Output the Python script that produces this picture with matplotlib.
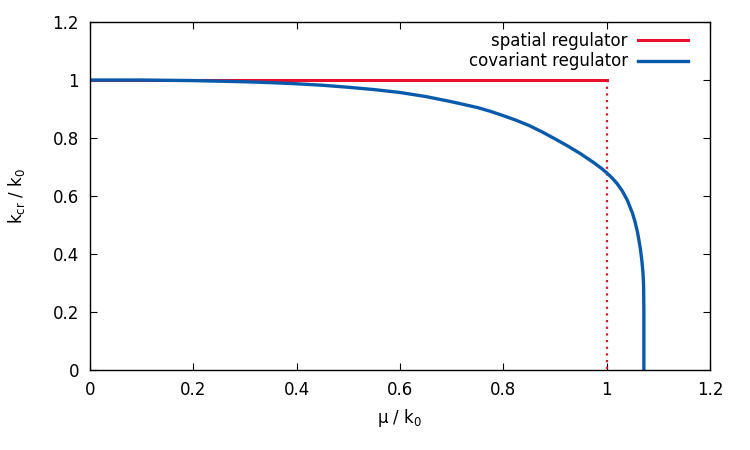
import numpy as np
import matplotlib
matplotlib.use("Agg")
import matplotlib.pyplot as plt

# spatial regulator: constant up to mu = k0
spatial_mu = [0.0, 1.0]
spatial_k = [1.0, 1.0]

# covariant regulator
covariant_mu = [0.0, 0.1, 0.2, 0.25, 0.3, 0.35, 0.4, 0.45, 0.5, 0.55, 0.6, 0.65, 0.7, 0.75, 0.775,
                0.8, 0.825, 0.85, 0.875, 0.9, 0.925, 0.95, 0.975, 0.99, 1.0, 1.01, 1.02, 1.03, 1.04,
                1.05, 1.055, 1.06, 1.065, 1.068, 1.07, 1.071, 1.0715, 1.072, 1.072]
covariant_k = [1.0, 1.0, 0.998, 0.996, 0.994, 0.991, 0.987, 0.982, 0.975, 0.967, 0.957, 0.943, 0.925, 0.905, 0.892,
               0.877, 0.861, 0.843, 0.821, 0.797, 0.772, 0.745, 0.715, 0.695, 0.68, 0.663, 0.643, 0.618, 0.585,
               0.54, 0.51, 0.472, 0.42, 0.378, 0.34, 0.31, 0.285, 0.2, 0.0]

xticks = [0, 0.2, 0.4, 0.6, 0.8, 1, 1.2]
yticks = [0, 0.2, 0.4, 0.6, 0.8, 1, 1.2]
tick_labels = ["0", "0.2", "0.4", "0.6", "0.8", "1", "1.2"]

red = "#e8102a"
blue = "#0a5aac"

plt.rcParams["font.family"] = "DejaVu Sans"
plt.rcParams["font.size"] = 12

fig = plt.figure(figsize=(7.5, 4.5), dpi=100)
ax = fig.add_axes([0.12, 0.178, 0.8267, 0.773])

ax.plot(spatial_mu, spatial_k, color=red, lw=2.2, label="spatial regulator")
ax.plot([spatial_mu[-1], spatial_mu[-1]], [spatial_k[-1], 0], color=red, lw=1.6, ls=(0, (1, 2)))
ax.plot(covariant_mu, covariant_k, color=blue, lw=2.4, label="covariant regulator",
        solid_joinstyle="round")

ax.set_xlim(0, 1.2)
ax.set_ylim(0, 1.2)
ax.set_xticks(xticks)
ax.set_xticklabels(tick_labels)
ax.set_yticks(yticks)
ax.set_yticklabels(tick_labels)
ax.tick_params(direction="in", top=True, right=True, length=5, width=0.8, pad=8)
for s in ax.spines.values():
    s.set_linewidth(1.0)

ax.set_xlabel(r"μ / k$_\mathregular{0}$", labelpad=6)
ax.set_ylabel(r"k$_\mathregular{cr}$ / k$_\mathregular{0}$", labelpad=18)

ax.legend(loc="upper right", bbox_to_anchor=(0.976, 0.991), frameon=False, markerfirst=False,
          handlelength=3.05, borderaxespad=0, labelspacing=0.15, handletextpad=0.6)

fig.savefig("out.png", dpi=100)
